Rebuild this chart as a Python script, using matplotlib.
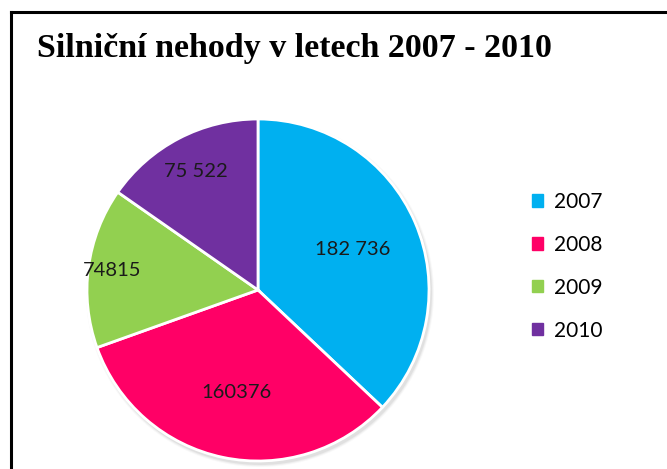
import matplotlib.pyplot as plt
import matplotlib.patches as mpatches
import numpy as np

years = ["2007", "2008", "2009", "2010"]
accidents = [182736, 160376, 74815, 75522]
grouped = [True, False, False, True]  # thousands separator shown or not
colors = ["#00B0F0", "#FF0066", "#92D050", "#7030A0"]
label_r = [0.60, 0.61, 0.86, 0.78]

W, H = 667, 469
fig = plt.figure(figsize=(W / 100, H / 100), dpi=100)
ax = fig.add_axes([0, 0, 1, 1])

cx, cy, R = 258, 469 - 290, 171

# soft shadow behind the pie
for i, a in enumerate([0.05, 0.08, 0.12]):
    ax.add_patch(mpatches.Circle((cx + 2, cy - 3), R + 3 - i, color="grey",
                                 alpha=a, lw=0, zorder=0))

explode = [0.012, 0, 0, 0]
wedges, _ = ax.pie(accidents, colors=colors, startangle=90, counterclock=False,
                   center=(cx, cy), radius=R, explode=explode,
                   wedgeprops=dict(edgecolor="white", linewidth=2))

# pie() resets the limits, so set the pixel frame afterwards
ax.set_xlim(0, W)
ax.set_ylim(0, H)
ax.set_aspect("equal")
ax.axis("off")

total = sum(accidents)
start = 90.0
for v, g, r in zip(accidents, grouped, label_r):
    span = 360.0 * v / total
    mid = np.radians(start - span / 2)
    start -= span
    txt = f"{v:,}".replace(",", " ") if g else str(v)
    ax.text(cx + r * R * np.cos(mid), cy + r * R * np.sin(mid), txt,
            ha="center", va="center", fontsize=14.5, family="Lato", color="#1a1a1a")

# frame lines on the left and top
ax.plot([11, 11], [0, H - 12], color="black", lw=2.2, solid_capstyle="projecting")
ax.plot([11, W], [H - 12, H - 12], color="black", lw=2.2)

fig.text(37 / W, 1 - 48 / H, "Silniční nehody v letech 2007 - 2010",
         fontsize=24.5, family="Liberation Serif", weight="bold", va="center")

handles = [mpatches.Patch(color=c, label=y) for c, y in zip(colors, years)]
fig.legend(handles=handles, loc="upper left", bbox_to_anchor=(513 / W, 1 - 173 / H),
           frameon=False, prop=dict(family="Lato", size=15),
           handlelength=0.55, handleheight=0.55, handletextpad=0.5,
           labelspacing=1.1)

fig.savefig("out.png", dpi=100)
